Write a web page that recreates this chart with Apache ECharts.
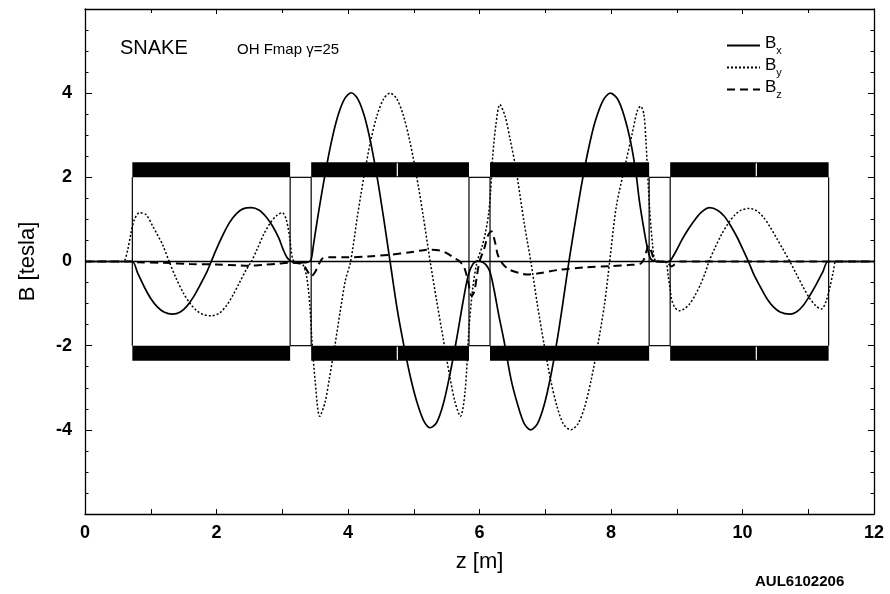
<!DOCTYPE html>
<html>
<head>
<meta charset="utf-8">
<title>SNAKE OH Fmap</title>
<script src="https://cdn.jsdelivr.net/npm/echarts@6/dist/echarts.min.js"></script>
<style>
  html, body { margin: 0; padding: 0; background: #fff; }
  #chart { width: 890px; height: 594px; }
</style>
</head>
<body>
<div id="chart"></div>
<script>
// Snake field map: transverse and longitudinal field components along z.
// Each array holds [z (m), B (tesla)] samples.
const bxField = [
  [0, 0], [0.6, 0], [0.72, 0], [0.8, -0.27], [0.9, -0.6], [1.0, -0.88], [1.1, -1.08], [1.2, -1.2],
  [1.33, -1.25], [1.45, -1.2], [1.55, -1.06], [1.65, -0.84], [1.75, -0.56], [1.85, -0.26], [1.92, 0],
  [2.0, 0.3], [2.1, 0.64], [2.2, 0.93], [2.3, 1.13], [2.4, 1.25], [2.53, 1.28], [2.65, 1.22], [2.75, 1.07],
  [2.85, 0.85], [2.95, 0.55], [3.01, 0.3], [3.07, 0.1], [3.12, 0.02], [3.2, -0.03], [3.3, -0.03], [3.4, -0.01],
  [3.44, 0.05], [3.48, 0.45], [3.55, 1.15], [3.65, 2.06], [3.75, 2.86], [3.85, 3.48], [3.95, 3.87], [4.05, 4.01],
  [4.15, 3.86], [4.25, 3.45], [4.35, 2.79], [4.45, 1.94], [4.55, 0.95], [4.64, 0], [4.75, -1.15], [4.85, -2.0],
  [4.95, -2.75], [5.05, -3.35], [5.15, -3.78], [5.25, -3.95], [5.35, -3.82], [5.45, -3.38], [5.55, -2.68],
  [5.65, -1.86], [5.75, -0.95], [5.83, -0.32], [5.9, -0.06], [5.97, 0.01], [6.04, -0.01], [6.1, -0.08],
  [6.16, -0.25], [6.22, -0.66], [6.29, -1.25], [6.37, -1.86], [6.48, -2.8], [6.58, -3.4], [6.68, -3.85],
  [6.78, -4.0], [6.88, -3.86], [6.98, -3.43], [7.08, -2.75], [7.18, -1.88], [7.28, -0.86], [7.36, 0],
  [7.46, 0.97], [7.56, 1.89], [7.66, 2.69], [7.76, 3.33], [7.88, 3.83], [7.99, 4.0], [8.1, 3.86], [8.2, 3.46],
  [8.3, 2.83], [8.38, 2.1], [8.43, 1.46], [8.51, 0.68], [8.56, 0.28], [8.61, 0.05], [8.7, 0], [8.85, -0.01],
  [8.9, 0.02], [8.98, 0.22], [9.08, 0.52], [9.18, 0.78], [9.28, 1.0], [9.38, 1.18], [9.5, 1.28], [9.62, 1.22],
  [9.72, 1.08], [9.82, 0.85], [9.92, 0.57], [10.02, 0.24], [10.09, 0], [10.17, -0.3], [10.27, -0.6],
  [10.37, -0.88], [10.47, -1.08], [10.57, -1.2], [10.72, -1.25], [10.82, -1.2], [10.92, -1.05], [11.02, -0.82],
  [11.12, -0.55], [11.22, -0.25], [11.3, 0], [11.4, 0], [12, 0]
];

const byField = [
  [0, 0], [0.55, 0], [0.6, 0.02], [0.65, 0.28], [0.7, 0.68], [0.75, 0.99], [0.83, 1.16], [0.93, 1.11],
  [1.03, 0.84], [1.1, 0.64], [1.18, 0.4], [1.28, 0], [1.38, -0.38], [1.5, -0.76], [1.6, -1.0], [1.7, -1.17],
  [1.8, -1.26], [1.92, -1.29], [2.05, -1.22], [2.15, -1.05], [2.25, -0.8], [2.35, -0.5], [2.45, -0.2], [2.53, 0],
  [2.62, 0.3], [2.72, 0.65], [2.82, 0.92], [2.92, 1.1], [3.0, 1.16], [3.06, 1.0], [3.11, 0.6], [3.16, 0.05],
  [3.22, -0.02], [3.3, -0.04], [3.37, -0.35], [3.42, -1.05], [3.45, -1.84], [3.5, -2.83], [3.57, -3.68],
  [3.65, -3.35], [3.72, -2.75], [3.8, -2.0], [3.88, -1.2], [3.96, -0.45], [4.04, 0], [4.14, 1.04], [4.24, 2.0],
  [4.34, 2.83], [4.44, 3.46], [4.54, 3.86], [4.64, 4.0], [4.74, 3.87], [4.84, 3.48], [4.94, 2.86], [5.04, 2.06],
  [5.14, 1.12], [5.25, 0], [5.35, -0.95], [5.45, -1.85], [5.55, -2.75], [5.63, -3.35], [5.71, -3.68],
  [5.78, -3.1], [5.84, -1.6], [5.9, -0.6], [5.96, -0.03], [6.04, 0.36], [6.09, 0.68], [6.14, 1.15],
  [6.17, 1.69], [6.2, 2.48], [6.25, 3.26], [6.31, 3.73], [6.39, 3.45], [6.47, 2.87], [6.55, 2.24], [6.68, 0.91],
  [6.78, 0], [6.88, -1.02], [6.98, -1.95], [7.08, -2.8], [7.18, -3.45], [7.28, -3.87], [7.39, -4.0],
  [7.5, -3.85], [7.6, -3.45], [7.7, -2.8], [7.8, -1.98], [7.9, -1.03], [7.98, 0], [8.08, 1.3], [8.22, 2.32],
  [8.31, 2.95], [8.4, 3.58], [8.45, 3.69], [8.5, 3.5], [8.53, 2.9], [8.56, 2.0], [8.59, 1.2], [8.63, 0.44],
  [8.67, 0.04], [8.77, 0], [8.84, -0.03], [8.87, -0.35], [8.9, -0.66], [8.92, -0.89], [8.97, -1.09],
  [9.04, -1.17], [9.12, -1.12], [9.2, -1.0], [9.28, -0.8], [9.36, -0.55], [9.43, -0.28], [9.49, 0],
  [9.58, 0.32], [9.68, 0.64], [9.78, 0.9], [9.88, 1.1], [9.98, 1.22], [10.11, 1.26], [10.22, 1.2],
  [10.32, 1.05], [10.42, 0.82], [10.52, 0.55], [10.62, 0.28], [10.72, 0], [10.82, -0.3], [10.92, -0.6],
  [11.02, -0.87], [11.12, -1.06], [11.2, -1.13], [11.27, -0.95], [11.33, -0.6], [11.38, -0.25], [11.42, 0],
  [11.5, 0], [12, 0]
];

const bzField = [
  [0, 0], [0.7, 0], [0.8, -0.02], [1.2, -0.03], [1.6, -0.06], [2.0, -0.07], [2.3, -0.09], [2.5, -0.1],
  [2.7, -0.08], [2.9, -0.06], [3.1, -0.03], [3.25, -0.04], [3.33, -0.1], [3.38, -0.22], [3.44, -0.35],
  [3.5, -0.25], [3.56, -0.05], [3.62, 0.08], [3.75, 0.1], [4.0, 0.1], [4.3, 0.12], [4.64, 0.16], [4.95, 0.22],
  [5.15, 0.27], [5.25, 0.28], [5.4, 0.26], [5.5, 0.2], [5.6, 0.1], [5.7, 0.0], [5.77, -0.15], [5.83, -0.5],
  [5.88, -0.82], [5.92, -0.72], [5.96, -0.35], [6.0, 0.0], [6.07, 0.3], [6.13, 0.62], [6.18, 0.72],
  [6.23, 0.5], [6.28, 0.15], [6.35, -0.05], [6.45, -0.19], [6.6, -0.27], [6.72, -0.31], [6.9, -0.28],
  [7.2, -0.2], [7.6, -0.14], [8.0, -0.11], [8.3, -0.08], [8.45, -0.05], [8.5, 0.05], [8.54, 0.25],
  [8.57, 0.38], [8.61, 0.25], [8.65, 0.08], [8.7, 0], [8.82, 0], [8.88, -0.06], [8.92, -0.12], [8.97, -0.07],
  [9.05, 0], [12, 0]
];

// Helical dipole modules: entrance / exit positions (m) and the split between half-coils.
const magnetEntrance = [0.72, 3.44, 6.16, 8.9];
const magnetExit = [3.12, 5.84, 8.58, 11.31];
const magnetSplit = [NaN, 4.75, NaN, 10.21];
// Pole face and outer coil edge (tesla scale), drawn symmetric about zero.
const poleFace = 2.0;
const coilOuter = 2.36;

// Axis ticks
const zTicks = [0, 2, 4, 6, 8, 10, 12];
const bTicks = [-4, -2, 0, 2, 4];

const FONT = '"Liberation Sans", Arial, Helvetica, sans-serif';

const magnetData = magnetEntrance.map((z0, i) => [
  z0, magnetExit[i], magnetSplit[i], i + 1 < magnetEntrance.length ? magnetEntrance[i + 1] : NaN
]);

function renderMagnet(params, api) {
  const z0 = api.value(0), z1 = api.value(1), zs = api.value(2), zn = api.value(3);
  const black = { fill: '#000' };
  const thin = { stroke: '#000', lineWidth: 1.2 };
  const children = [];
  const tA = api.coord([z0, coilOuter]), tB = api.coord([z1, poleFace]);
  const bA = api.coord([z0, -poleFace]), bB = api.coord([z1, -coilOuter]);
  children.push({ type: 'rect', shape: { x: tA[0], y: tA[1], width: tB[0] - tA[0], height: tB[1] - tA[1] }, style: black });
  children.push({ type: 'rect', shape: { x: bA[0], y: bA[1], width: bB[0] - bA[0], height: bB[1] - bA[1] }, style: black });
  [z0, z1].forEach(z => {
    const p = api.coord([z, poleFace]), q = api.coord([z, -poleFace]);
    children.push({ type: 'line', shape: { x1: p[0], y1: p[1], x2: q[0], y2: q[1] }, style: thin });
  });
  if (!isNaN(zn)) {
    [poleFace, -poleFace].forEach(b => {
      const p = api.coord([z1, b]), q = api.coord([zn, b]);
      children.push({ type: 'line', shape: { x1: p[0], y1: p[1], x2: q[0], y2: q[1] }, style: thin });
    });
  }
  if (!isNaN(zs)) {
    const white = { stroke: '#fff', lineWidth: 1.2 };
    const a1 = api.coord([zs, coilOuter]), a2 = api.coord([zs, poleFace]);
    const b1 = api.coord([zs, -poleFace]), b2 = api.coord([zs, -coilOuter]);
    children.push({ type: 'line', shape: { x1: a1[0], y1: a1[1] + 1, x2: a2[0], y2: a2[1] - 1 }, style: white });
    children.push({ type: 'line', shape: { x1: b1[0], y1: b1[1] + 1, x2: b2[0], y2: b2[1] - 1 }, style: white });
  }
  return { type: 'group', children };
}

const axisCommon = {
  type: 'value',
  splitLine: { show: false },
  axisLine: { show: true, onZero: false, lineStyle: { color: '#000', width: 1.3 } },
};

const chart = echarts.init(document.getElementById('chart'), null, { renderer: 'canvas' });

chart.setOption({
  backgroundColor: '#fff',
  animation: false,
  grid: { left: 85, right: 16, top: 9, bottom: 80, containLabel: false },
  xAxis: [
    Object.assign({}, axisCommon, {
      position: 'bottom', min: zTicks[0], max: zTicks[zTicks.length - 1], interval: 2,
      axisTick: { show: true, inside: true, length: 5, lineStyle: { color: '#000', width: 1 } },
      minorTick: { show: true, splitNumber: 2, length: 5, lineStyle: { color: '#000', width: 1 } },
      axisLabel: { color: '#000', fontFamily: FONT, fontSize: 18, fontWeight: 'bold', margin: 10 },
      name: 'z [m]', nameLocation: 'middle', nameGap: 37,
      nameTextStyle: { color: '#000', fontFamily: FONT, fontSize: 22 }
    }),
    Object.assign({}, axisCommon, {
      position: 'top', min: zTicks[0], max: zTicks[zTicks.length - 1], interval: 2,
      axisTick: { show: true, inside: true, length: 5, lineStyle: { color: '#000', width: 1 } },
      minorTick: { show: true, splitNumber: 2, length: 4, lineStyle: { color: '#000', width: 1 } },
      axisLabel: { show: false }
    })
  ],
  yAxis: [
    Object.assign({}, axisCommon, {
      position: 'left', min: -6, max: 6, interval: 2,
      axisTick: { show: true, inside: true, length: 7, lineStyle: { color: '#000', width: 1 } },
      minorTick: { show: true, splitNumber: 4, length: 3.5, lineStyle: { color: '#000', width: 1 } },
      axisLabel: {
        color: '#000', fontFamily: FONT, fontSize: 18, fontWeight: 'bold', margin: 13,
        formatter: v => (bTicks.indexOf(v) >= 0 ? String(v) : '')
      },
      name: 'B [tesla]', nameLocation: 'middle', nameGap: 46, nameRotate: 90,
      nameTextStyle: { color: '#000', fontFamily: FONT, fontSize: 22 }
    }),
    Object.assign({}, axisCommon, {
      position: 'right', min: -6, max: 6, interval: 2,
      axisTick: { show: true, inside: true, length: 6, lineStyle: { color: '#000', width: 1 } },
      minorTick: { show: true, splitNumber: 4, length: 3.5, lineStyle: { color: '#000', width: 1 } },
      axisLabel: { show: false }
    })
  ],
  legend: {
    orient: 'vertical', left: 721, top: 30, itemWidth: 33, itemHeight: 12, itemGap: 1,
    itemStyle: { opacity: 0 },
    data: ['Bx', 'By', 'Bz'],
    formatter: name => '{b|B}{s|' + name.slice(1) + '}',
    textStyle: {
      color: '#000', fontFamily: FONT,
      rich: {
        b: { fontSize: 17, fontFamily: FONT, color: '#000', lineHeight: 16, verticalAlign: 'top' },
        s: { fontSize: 11, fontFamily: FONT, color: '#000', lineHeight: 21, verticalAlign: 'bottom' }
      }
    }
  },
  graphic: [
    { type: 'text', left: 120, top: 38, style: { text: 'SNAKE', fontFamily: FONT, fontSize: 20, fill: '#000' } },
    { type: 'text', left: 237, top: 42, style: { text: 'OH Fmap γ=25', fontFamily: FONT, fontSize: 15, fill: '#000' } },
    { type: 'text', left: 755, top: 574, style: { text: 'AUL6102206', fontFamily: FONT, fontSize: 15, fontWeight: 'bold', fill: '#000' } }
  ],
  series: [
    {
      type: 'custom', name: 'magnets', renderItem: renderMagnet, data: magnetData,
      encode: { x: [0, 1] }, silent: true, z: 1, clip: true
    },
    {
      type: 'line', name: 'Bx', data: bxField, showSymbol: false, symbol: 'none', smooth: 0.3, z: 3,
      lineStyle: { color: '#000', width: 1.7, type: 'solid' },
      itemStyle: { color: '#000' },
      markLine: {
        silent: true, symbol: 'none', label: { show: false },
        lineStyle: { color: '#000', width: 1.3, type: 'solid' },
        data: [{ yAxis: 0 }]
      }
    },
    {
      type: 'line', name: 'By', data: byField, showSymbol: false, symbol: 'none', smooth: 0.3, z: 3,
      lineStyle: { color: '#000', width: 1.5, type: [2, 2] },
      itemStyle: { color: '#000' }
    },
    {
      type: 'line', name: 'Bz', data: bzField, showSymbol: false, symbol: 'none', smooth: 0.3, z: 3,
      lineStyle: { color: '#000', width: 2, type: [8, 5] },
      itemStyle: { color: '#000' }
    }
  ]
});
</script>
</body>
</html>
